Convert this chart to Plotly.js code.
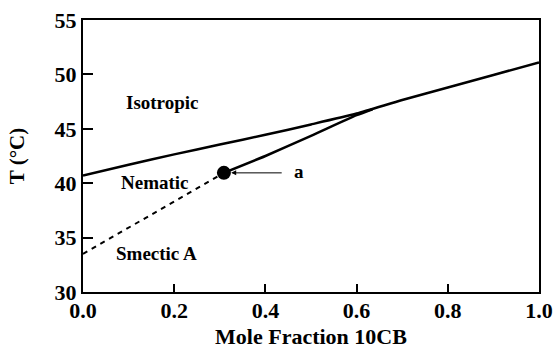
<!DOCTYPE html>
<html>
<head>
<meta charset="utf-8">
<script src="https://cdn.plot.ly/plotly-3.0.1.min.js"></script>
<style>html,body{margin:0;padding:0;background:#fff;}#chart{width:554px;height:349px;}</style>
</head>
<body>
<div id="chart"></div>
<script>
// Isotropic–nematic boundary
var isoX = [0.0, 0.1, 0.2, 0.3, 0.4, 0.5, 0.6, 0.7, 0.8, 0.9, 1.0];
var isoT = [40.7, 41.7, 42.65, 43.55, 44.45, 45.4, 46.4, 47.65, 48.8, 49.95, 51.1];
// Nematic–smectic A boundary (solid, measured)
var nsX = [0.309, 0.4, 0.5, 0.6, 0.635];
var nsT = [40.95, 42.5, 44.35, 46.25, 46.8];
// Nematic–smectic A boundary (dashed, extrapolated)
var dashX = [0.0, 0.309];
var dashT = [33.5, 40.95];
// Point a
var ptX = [0.309];
var ptT = [40.95];
// Phase labels
var phaseLabels = ["Isotropic", "Nematic", "Smectic A"];
var phaseX = [0.173, 0.158, 0.162];
var phaseT = [47.4, 40.1, 33.5];
var xTicks = [0, 0.2, 0.4, 0.6, 0.8, 1.0];
var xTickText = ["0.0", "0.2", "0.4", "0.6", "0.8", "1.0"];
var yTicks = [30, 35, 40, 45, 50, 55];

var fontFam = "Liberation Serif, Times New Roman, serif";

var traces = [
  {x: isoX, y: isoT, mode: "lines", line: {color: "#000", width: 2.5, shape: "spline", smoothing: 0.6}, hoverinfo: "skip"},
  {x: nsX, y: nsT, mode: "lines", line: {color: "#000", width: 2.5, shape: "spline", smoothing: 0.6}, hoverinfo: "skip"},
  {x: dashX, y: dashT, mode: "lines", line: {color: "#000", width: 2, dash: "5px,5px"}, hoverinfo: "skip"},
  {x: ptX, y: ptT, mode: "markers", marker: {color: "#000", size: 14}, hoverinfo: "skip"}
];

var annotations = phaseLabels.map(function (t, i) {
  return {x: phaseX[i], y: phaseT[i], xref: "x", yref: "y", text: t, showarrow: false,
          font: {family: fontFam, size: 19, color: "#000", weight: "bold"}};
});
annotations.push({x: ptX[0] + 0.016, y: ptT[0], xref: "x", yref: "y", text: "", showarrow: true,
  ax: 52, ay: 0, arrowhead: 2, arrowsize: 1, arrowwidth: 1, arrowcolor: "#000"});
annotations.push({x: 0.473, y: ptT[0] + 0.15, xref: "x", yref: "y", text: "a", showarrow: false,
  font: {family: fontFam, size: 19, color: "#000", weight: "bold"}});

var layout = {
  width: 554, height: 349,
  margin: {l: 83, r: 15, t: 20, b: 57},
  paper_bgcolor: "#fff", plot_bgcolor: "#fff",
  showlegend: false,
  font: {family: fontFam, color: "#000", size: 22, weight: "bold"},
  xaxis: {
    range: [0, 1], tickvals: xTicks, ticktext: xTickText,
    ticks: "inside", ticklen: 8, tickwidth: 2, tickcolor: "#000",
    showline: true, linecolor: "#000", linewidth: 2, mirror: true,
    showgrid: false, zeroline: false,
    tickfont: {family: fontFam, size: 22, weight: "bold"},
    ticklabelstandoff: -2,
    title: {text: "Mole Fraction 10CB", font: {family: fontFam, size: 22, weight: "bold"}, standoff: 19}
  },
  yaxis: {
    range: [30, 55], tickvals: yTicks,
    ticks: "inside", ticklen: 10, tickwidth: 2, tickcolor: "#000",
    showline: true, linecolor: "#000", linewidth: 2, mirror: true,
    showgrid: false, zeroline: false,
    tickfont: {family: fontFam, size: 22, weight: "bold"},
    title: {text: "T (°C)", font: {family: fontFam, size: 21, weight: "bold"}, standoff: 24}
  },
  annotations: annotations
};

Plotly.newPlot("chart", traces, layout, {staticPlot: true, displayModeBar: false});
</script>
</body>
</html>
